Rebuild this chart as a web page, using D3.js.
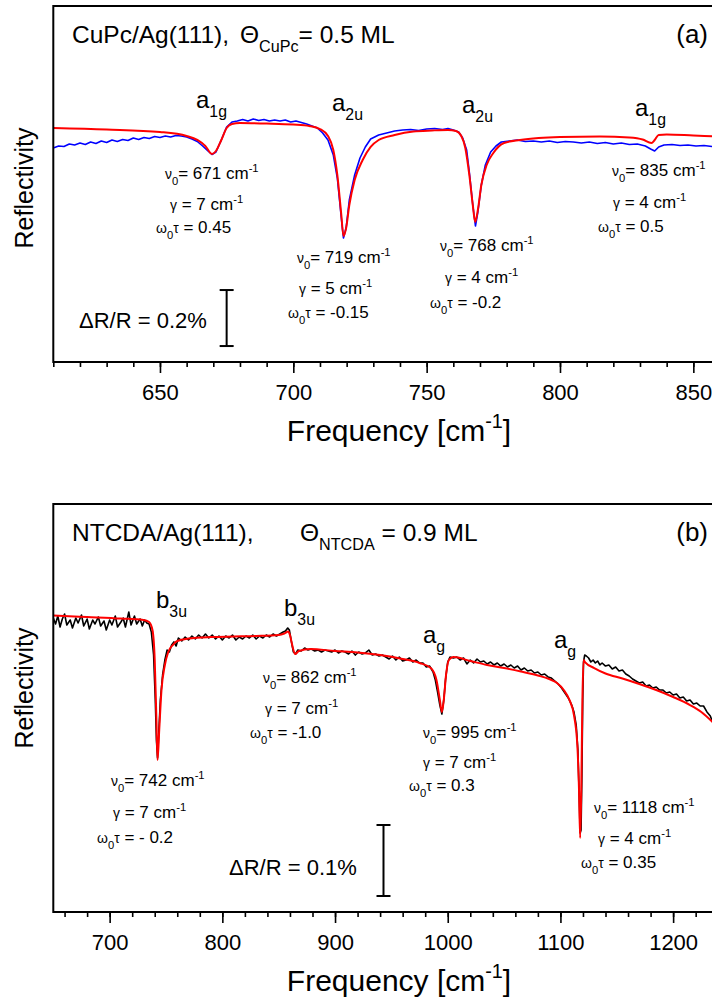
<!DOCTYPE html>
<html><head><meta charset="utf-8">
<script src="https://cdn.jsdelivr.net/npm/d3@7"></script>
<style>
html,body{margin:0;padding:0;background:#fff;}
svg{display:block;font-family:"Liberation Sans",Arial,sans-serif;}
text{white-space:pre;}
</style></head>
<body>
<script>
// ---------------- DATA (ΔR/R in units of 0.01 %, frequency in cm-1) ----------------
const cupcMeasured = [[610,-8.57],[612,-7.86],[614,-8.04],[616,-7.14],[618,-7.5],[620,-6.79],[622,-7.32],[624,-6.43],[626,-6.96],[628,-6.07],[630,-6.61],[632,-5.71],[634,-6.25],[636,-5.54],[638,-5.89],[640,-5],[642,-5.54],[644,-4.82],[646,-5.18],[648,-4.46],[650,-4.82],[652,-4.29],[654,-4.64],[656,-4.11],[658,-4.29],[660,-4.64],[662,-5.36],[664,-6.25],[666,-7.86],[668,-9.64],[669.5,-10.89],[671,-10],[673,-5.71],[675,-1.07],[677,0.71],[679,1.07],[681,1.61],[683,1.07],[685,1.79],[687,1.25],[689,1.61],[691,1.07],[693,1.43],[695,1.07],[697,1.43],[699,0.71],[701,1.07],[703,0.54],[705,0],[707,-0.71],[709,-1.43],[711,-3.21],[713,-5.71],[715,-11.07],[716.5,-19.29],[718,-33.57],[718.8,-40.71],[719.8,-37.14],[721,-27.14],[723,-18.21],[725,-12.14],[727,-8.21],[729,-5.36],[732,-3.93],[735,-3.21],[738,-2.5],[741,-2.14],[744,-1.96],[747,-2.32],[750,-1.79],[753,-1.61],[756,-1.96],[758,-1.61],[760,-2.14],[762,-2.86],[763.5,-5],[765,-9.29],[766,-17.14],[767.3,-28.93],[768.3,-36.43],[769.2,-31.43],[770.5,-21.79],[772,-14.64],[774,-10],[776,-7.86],[778,-6.43],[781,-6.07],[784,-5.71],[787,-6.25],[790,-6.07],[793,-6.43],[796,-6.07],[799,-6.61],[802,-6.25],[805,-6.43],[808,-6.79],[811,-6.43],[814,-6.96],[817,-6.61],[820,-7.14],[823,-6.79],[826,-7.32],[829,-7.14],[832,-7.86],[834,-8.93],[835.5,-9.64],[837,-8.21],[839,-7.5],[842,-7.32],[845,-7.68],[848,-7.5],[851,-7.86],[854,-7.68],[857,-8.04],[860,-8.21]];

const cupcFit = [[610,-1.43],[630,-1.96],[650,-2.86],[660,-4.29],[664,-5.71],[667,-7.86],[669.5,-10.71],[671,-9.64],[673,-5.71],[675,-1.43],[677,0],[680,0.36],[690,0.18],[700,-0.18],[706,-0.71],[710,-1.79],[713,-4.29],[715,-9.29],[716.5,-18.21],[718,-32.5],[718.8,-40],[719.8,-37.14],[721,-28.93],[723,-20],[726,-12.86],[729,-8.21],[732,-5.71],[738,-3.93],[745,-2.68],[752,-2.32],[758,-2.14],[761,-2.5],[763,-4.29],[764.5,-8.57],[766,-18.21],[767.3,-28.93],[768.2,-35],[769.2,-30.71],[770.5,-21.79],[772.5,-14.64],[775,-10.36],[779,-6.79],[785,-5.71],[792,-5],[800,-4.64],[815,-4.46],[826,-4.82],[831,-5.54],[834.3,-6.79],[835.5,-5.71],[837,-3.93],[840,-3.75],[850,-4.11],[860,-4.46]];

const ntcdaMeasured = [[650,2.53],[652,1.69],[654,2.82],[656,1.27],[658,2.39],[660,3.10],[662,1.55],[665,2.25],[667,1.13],[670,2.53],[672,1.83],[675,2.96],[677,1.41],[680,2.39],[682,0.99],[685,2.25],[687,1.69],[690,2.68],[692,1.41],[695,2.11],[697,0.85],[700,2.25],[702,1.55],[705,2.82],[707,1.27],[710,1.97],[712,2.53],[714,1.27],[717,3.38],[719,1.55],[722,2.82],[724,1.69],[727,2.39],[729,1.41],[731,2.25],[733,1.83],[735,1.69],[737,0.56],[739,-2.68],[740.5,-9.01],[741.5,-14.64],[742.5,-17.18],[743.5,-13.94],[745,-9.01],[747,-5.49],[749,-3.38],[751,-1.97],[753,-2.25],[755,-1.27],[757,-0.84],[759,-1.41],[761,-0.28],[764,-0.70],[767,-0.14],[770,-0.56],[773,0],[776,-0.42],[779,0.14],[782,-0.28],[785,0.28],[788,-0.28],[791,0.14],[794,-0.42],[797,0],[800,-0.56],[803,0],[806,-0.28],[809,0.14],[812,-0.56],[815,-0.14],[818,-0.42],[821,0],[824,-0.28],[827,0.14],[830,-0.42],[833,0],[836,-0.28],[839,0.14],[842,-0.14],[845,0.28],[848,0],[851,0.28],[854,0.56],[856,0.70],[858,1.13],[859.5,0.84],[861,-0.56],[863,-2.25],[865,-2.53],[867,-1.97],[870,-2.11],[873,-1.69],[876,-1.97],[879,-1.83],[882,-2.11],[885,-1.97],[888,-2.25],[891,-1.97],[894,-2.11],[897,-2.25],[900,-1.97],[903,-2.39],[906,-2.11],[909,-2.25],[912,-2.53],[915,-2.11],[918,-2.68],[921,-2.25],[924,-2.53],[927,-2.39],[930,-1.97],[933,-2.68],[936,-2.53],[939,-2.82],[942,-2.68],[945,-2.96],[948,-3.24],[951,-2.82],[954,-3.38],[957,-2.96],[960,-3.52],[963,-3.38],[966,-3.10],[969,-3.66],[972,-3.38],[975,-3.80],[978,-3.80],[981,-4.37],[984,-4.23],[987,-5.07],[989,-6.20],[991,-7.89],[993,-9.72],[994.8,-10.99],[996.5,-9.01],[998,-6.20],[1000,-3.66],[1002,-2.96],[1005,-3.10],[1008,-2.96],[1011,-3.38],[1014,-3.10],[1017,-3.94],[1020,-3.38],[1023,-3.80],[1026,-3.24],[1029,-3.66],[1032,-3.52],[1035,-3.94],[1038,-3.66],[1041,-4.08],[1044,-3.80],[1047,-4.23],[1050,-3.94],[1053,-4.37],[1056,-4.08],[1059,-4.51],[1062,-4.23],[1065,-4.79],[1068,-4.51],[1071,-4.93],[1074,-4.79],[1077,-5.21],[1080,-5.07],[1083,-5.49],[1086,-5.35],[1089,-5.77],[1092,-5.92],[1095,-6.34],[1098,-6.76],[1101,-7.32],[1104,-8.03],[1107,-8.73],[1110,-9.72],[1112,-10.70],[1114,-12.54],[1115.5,-16.06],[1116.5,-21.69],[1117.5,-27.75],[1118.3,-27.32],[1119,-20.28],[1119.8,-9.01],[1120.5,-3.66],[1121.5,-2.68],[1123,-2.82],[1125,-3.10],[1127,-3.66],[1129,-3.38],[1131,-3.80],[1133,-3.52],[1135,-4.08],[1137,-3.80],[1140,-4.23],[1143,-4.08],[1146,-4.65],[1149,-4.37],[1152,-4.93],[1155,-4.79],[1158,-5.35],[1161,-5.63],[1164,-6.06],[1167,-6.34],[1170,-6.62],[1173,-6.48],[1176,-7.04],[1179,-6.90],[1182,-7.32],[1185,-7.18],[1188,-7.61],[1191,-7.61],[1194,-8.03],[1197,-7.89],[1200,-8.31],[1203,-8.17],[1206,-8.73],[1209,-8.59],[1212,-9.15],[1215,-9.01],[1218,-9.58],[1221,-9.44],[1224,-9.86],[1227,-9.86],[1230,-10.70],[1233,-11.27],[1235,-12.11]];

const ntcdaFit = [[650,2.89],[680,2.68],[710,2.46],[730,2.25],[735,1.97],[738,0.85],[740,-3.38],[741.5,-11.83],[742.5,-17.46],[744,-13.24],[746,-7.61],[749,-4.08],[752,-2.25],[756,-1.27],[760,-0.7],[770,-0.35],[790,-0.14],[810,-0.07],[830,0],[850,0.14],[855,0.35],[858.5,0.63],[860,0.14],[862,-1.27],[864.5,-2.54],[868,-2.11],[878,-1.83],[900,-2.11],[920,-2.32],[940,-2.68],[960,-3.24],[975,-3.8],[985,-4.51],[990,-6.2],[993,-9.01],[994.8,-10.7],[996.5,-9.01],[998.5,-5.49],[1001,-3.38],[1005,-2.96],[1020,-3.52],[1035,-4.08],[1050,-4.51],[1065,-5],[1080,-5.56],[1090,-6.06],[1097,-6.62],[1103,-7.61],[1108,-9.01],[1112,-11.13],[1115,-15.35],[1116.5,-21.69],[1117.5,-28.45],[1118.5,-21.69],[1119.5,-9.01],[1120.5,-3.38],[1122,-3.73],[1130,-4.51],[1140,-5.28],[1155,-5.99],[1170,-6.76],[1185,-7.61],[1200,-8.59],[1215,-9.72],[1225,-10.7],[1235,-12.11]];

// peak labels and fit parameters
const cupcModes = [["a","1g"],["a","2u"],["a","2u"],["a","1g"]];
const cupcNu = ["671","719","768","835"];
const cupcGamma = ["7","5","4","4"];
const cupcWt = ["0.45","-0.15","-0.2","0.5"];
const ntcdaModes = [["b","3u"],["b","3u"],["a","g"],["a","g"]];
const ntcdaNu = ["742","862","995","1118"];
const ntcdaGamma = ["7","7","7","4"];
const ntcdaWt = ["- 0.2","-1.0","0.3","0.35"];
const ticksA = [650,700,750,800,850];
const ticksB = [700,800,900,1000,1100,1200];
const scaleBarA = 20;   // 0.2 %
const scaleBarB = 10;   // 0.1 %

// ---------------- LAYOUT ----------------
const W = 712, H = 1001;
const svg = d3.select("body").append("svg").attr("width", W).attr("height", H);
svg.append("rect").attr("width", W).attr("height", H).attr("fill", "#fff");
const FONT = 17;

function rich(g, x, y, parts, size, anchor) {
  const t = g.append("text").attr("x", x).attr("y", y).attr("font-size", size)
    .attr("fill", "#000").attr("text-anchor", anchor || "start");
  let cur = 0;
  parts.forEach(p => {
    const [s, kind, px] = p;
    let off = 0, fs = size;
    if (kind === "sub") { off = size * 0.38; fs = size * 0.66; }
    else if (kind === "sup") { off = -size * 0.42; fs = size * 0.66; }
    else if (kind === "g") { fs = size * 0.82; }
    const ts = t.append("tspan").attr("dy", off - cur).attr("font-size", fs).text(s);
    if (px !== undefined) ts.attr("x", px);
    cur = off;
  });
  return t;
}

function panel(cfg) {
  const g = svg.append("g");
  const x = d3.scaleLinear().domain(cfg.xdom).range([cfg.left, cfg.right]);
  const y = d3.scaleLinear().domain(cfg.ydom).range([cfg.bottom, cfg.top]);
  const clipId = "clip" + cfg.id;
  svg.append("clipPath").attr("id", clipId).append("rect")
    .attr("x", cfg.left).attr("y", cfg.top).attr("width", cfg.right - cfg.left).attr("height", cfg.bottom - cfg.top);
  const line = d3.line().x(d => x(d[0])).y(d => y(d[1]));
  const smooth = d3.line().x(d => x(d[0])).y(d => y(d[1])).curve(d3.curveMonotoneX);
  const cg = g.append("g").attr("clip-path", `url(#${clipId})`);
  cg.append("path").datum(cfg.meas).attr("d", line).attr("fill", "none")
    .attr("stroke", cfg.measColor).attr("stroke-width", 1.6).attr("stroke-linejoin", "round");
  cg.append("path").datum(cfg.fit).attr("d", smooth).attr("fill", "none")
    .attr("stroke", "#ff0000").attr("stroke-width", 2).attr("stroke-linejoin", "round");

  // minor + major ticks
  const minor = d3.axisBottom(x).tickValues(cfg.minor).tickSize(5).tickFormat("");
  const major = d3.axisBottom(x).tickValues(cfg.major).tickSize(11).tickFormat(d3.format("d")).tickPadding(6);
  const ga = g.append("g").attr("transform", `translate(0,${cfg.bottom})`);
  ga.call(minor); ga.select(".domain").remove();
  ga.selectAll("line").attr("stroke", "#000").attr("stroke-width", 1.6);
  const gb = g.append("g").attr("transform", `translate(0,${cfg.bottom})`);
  gb.call(major); gb.select(".domain").remove();
  gb.selectAll("line").attr("stroke", "#000").attr("stroke-width", 1.6);
  gb.selectAll("text").attr("font-size", 22).attr("font-family", "Liberation Sans, Arial, sans-serif")
    .attr("fill", "#000").attr("dy", null).attr("y", 38);

  // frame
  g.append("rect").attr("x", cfg.left).attr("y", cfg.top).attr("width", cfg.right - cfg.left + 10)
    .attr("height", cfg.bottom - cfg.top).attr("fill", "none").attr("stroke", "#000").attr("stroke-width", 2);

  // axis titles
  rich(g, 399, cfg.bottom + 79, [["Frequency [cm", ""], ["-1", "sup"], ["]", ""]], 30, "middle");
  g.append("text").attr("transform", `translate(33,${cfg.ycenter}) rotate(-90)`)
    .attr("text-anchor", "middle").attr("font-size", 25).text("Reflectivity");

  // scale bar
  const sb = cfg.bar;
  const bx = x(sb.f), y1 = y(sb.v), y2 = y(sb.v - sb.len);
  g.append("line").attr("x1", bx).attr("x2", bx).attr("y1", y1).attr("y2", y2).attr("stroke", "#000").attr("stroke-width", 2);
  [y1, y2].forEach(yy => g.append("line").attr("x1", bx - 7).attr("x2", bx + 7).attr("y1", yy).attr("y2", yy)
    .attr("stroke", "#000").attr("stroke-width", 2));
  rich(g, sb.tx, sb.ty, [["ΔR/R = " + sb.label, ""]], 22);

  // title
  rich(g, 72, cfg.top + 37, cfg.title, 24.5);
  g.append("text").attr("x", 708).attr("y", cfg.top + 37).attr("text-anchor", "end").attr("font-size", 26).text(cfg.tag);

  // mode labels
  cfg.modes.forEach((m, i) => {
    const p = cfg.modePos[i];
    rich(g, p[0], p[1], [[m[0], ""], [m[1], "sub"]], 24);
  });
  // parameters
  cfg.nu.forEach((n, i) => {
    const p = cfg.parPos[i];
    rich(g, p[0], p[1], [["ν", "g"], ["0", "sub"], ["= " + n + " cm", ""], ["-1", "sup"]], FONT);
    rich(g, p[2], p[3], [["γ", "g"], [" = " + cfg.gamma[i] + " cm", ""], ["-1", "sup"]], FONT);
    rich(g, p[4], p[5], [["ω", "g"], ["0", "sub"], ["τ", "g"], [" = " + cfg.wt[i], ""]], FONT);
  });
}

panel({
  id: "A", xdom: [610, 860], left: 53.3, right: 720, top: 6, bottom: 362,
  ydom: [-85, 42.14], meas: cupcMeasured, fit: cupcFit, measColor: "#0000ff",
  minor: d3.range(610, 861, 10), major: ticksA, ycenter: 188,
  bar: { f: 675, v: -59.3, len: scaleBarA, label: "0.2%", tx: 79, ty: 328 },
  title: [["CuPc/Ag(111),", ""], ["Θ", "", 240], ["CuPc", "sub"], ["= 0.5 ML", ""]], tag: "(a)",
  modes: cupcModes, modePos: [[196, 108], [332, 111], [462, 113], [635, 116]],
  nu: cupcNu, gamma: cupcGamma, wt: cupcWt,
  parPos: [[165,179,170,210,156,233],[297,263,299,294,288,318],[440,251,445,283,430,308],[612,176,613,208,598,232]]
});

panel({
  id: "B", xdom: [650, 1240], left: 53.3, right: 718.2, top: 504, bottom: 912,
  ydom: [-38.87, 18.59], meas: ntcdaMeasured, fit: ntcdaFit, measColor: "#000000",
  minor: d3.range(660, 1241, 20), major: ticksB, ycenter: 688,
  bar: { f: 943, v: -26.62, len: scaleBarB, label: "0.1%", tx: 229, ty: 875 },
  title: [["NTCDA/Ag(111),", ""], ["Θ", "", 300], ["NTCDA", "sub"], [" = 0.9 ML", ""]], tag: "(b)",
  modes: ntcdaModes, modePos: [[156, 608], [284, 616], [423, 643], [554, 648]],
  nu: ntcdaNu, gamma: ntcdaGamma, wt: ntcdaWt,
  parPos: [[111,786,113,818,97,843],[263,683,265,714,250,738],[423,738,423,768,409,791],[594,813,598,844,581,868]]
});
</script>
</body></html>
